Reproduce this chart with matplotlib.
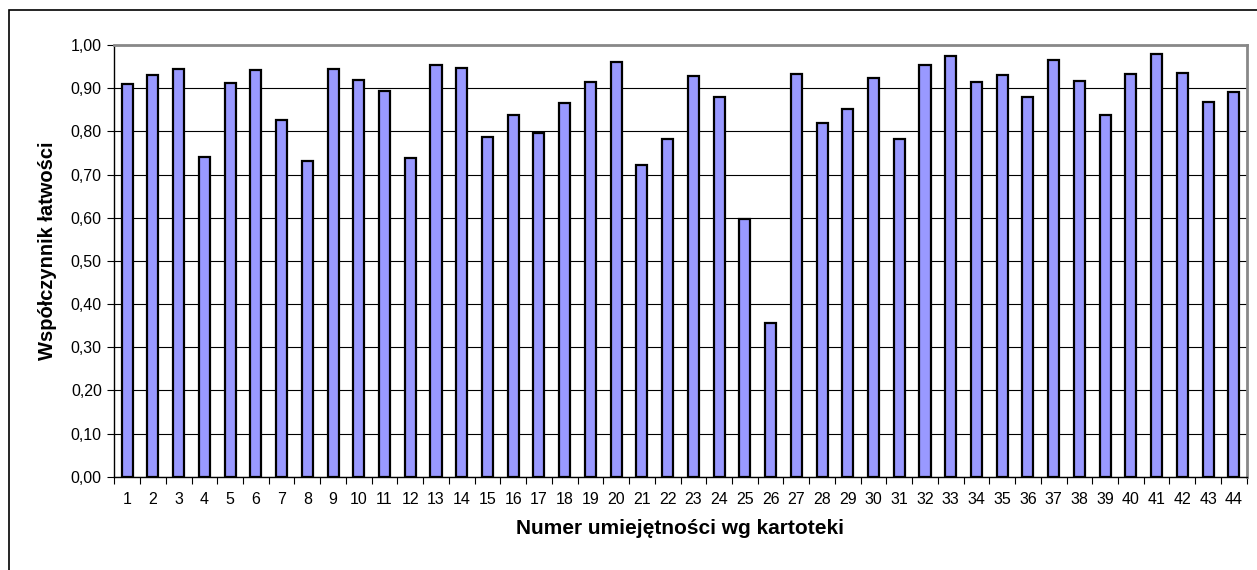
import matplotlib.pyplot as plt
import numpy as np
from matplotlib.patches import Rectangle

plt.rcParams['font.family'] = ['Liberation Sans', 'DejaVu Sans']

# numery umiejetnosci i wspolczynniki latwosci
skills = [str(i) for i in range(1, 45)]
easiness = [0.91, 0.93, 0.945, 0.74, 0.913, 0.941, 0.826, 0.732, 0.944, 0.919,
            0.894, 0.738, 0.954, 0.947, 0.787, 0.839, 0.797, 0.865, 0.915, 0.96,
            0.723, 0.782, 0.929, 0.88, 0.597, 0.355, 0.933, 0.819, 0.852, 0.924,
            0.782, 0.953, 0.974, 0.915, 0.93, 0.88, 0.965, 0.917, 0.838, 0.932,
            0.98, 0.936, 0.868, 0.89]
y_ticks = np.arange(0, 1.01, 0.1)

W, H = 1257, 570
fig = plt.figure(figsize=(W / 100, H / 100), dpi=100)
ax = fig.add_axes([114.3 / W, 1 - 476.7 / H, (1246.7 - 114.3) / W, (476.7 - 45) / H])

# ramka wykresu (tylko lewa i gorna krawedz widoczna)
fig.patches.append(Rectangle((9 / W, -0.1), 1.2, 1 - 10 / H + 0.1, transform=fig.transFigure,
                             fill=False, edgecolor='black', linewidth=1.2))

x = np.arange(len(skills))
ax.bar(x, easiness, width=0.43, color='#9999FF', edgecolor='black', linewidth=1.6, zorder=3)

ax.set_xlim(-0.5, len(skills) - 0.5)
ax.set_ylim(0, 1.0)
ax.set_yticks(y_ticks)
ax.set_yticklabels([f"{v:.2f}".replace('.', ',') for v in y_ticks], fontsize=11.5)
ax.grid(axis='y', color='black', linewidth=0.8, zorder=0)

ax.set_xticks(x)
ax.set_xticklabels(skills, fontsize=11.5)
ax.set_xticks(np.arange(-0.5, len(skills), 1), minor=True)
ax.tick_params(axis='x', which='major', length=0, pad=11)
ax.tick_params(axis='x', which='minor', length=5, width=0.8)
ax.tick_params(axis='y', length=5, width=0.8, pad=4)

for s in ['top', 'right']:
    ax.spines[s].set_color('#888888')
    ax.spines[s].set_linewidth(2)
ax.spines['left'].set_linewidth(1)
ax.spines['bottom'].set_linewidth(1)

ax.set_xlabel("Numer umiejętności wg kartoteki", fontsize=15, fontweight='bold', labelpad=9)
ax.set_ylabel("Współczynnik łatwości", fontsize=14.5, fontweight='bold')
ax.yaxis.set_label_coords(-(114.3 - 57) / (1246.7 - 114.3), (476.7 - 250.5) / (476.7 - 45))

fig.savefig("out.png", dpi=100)
